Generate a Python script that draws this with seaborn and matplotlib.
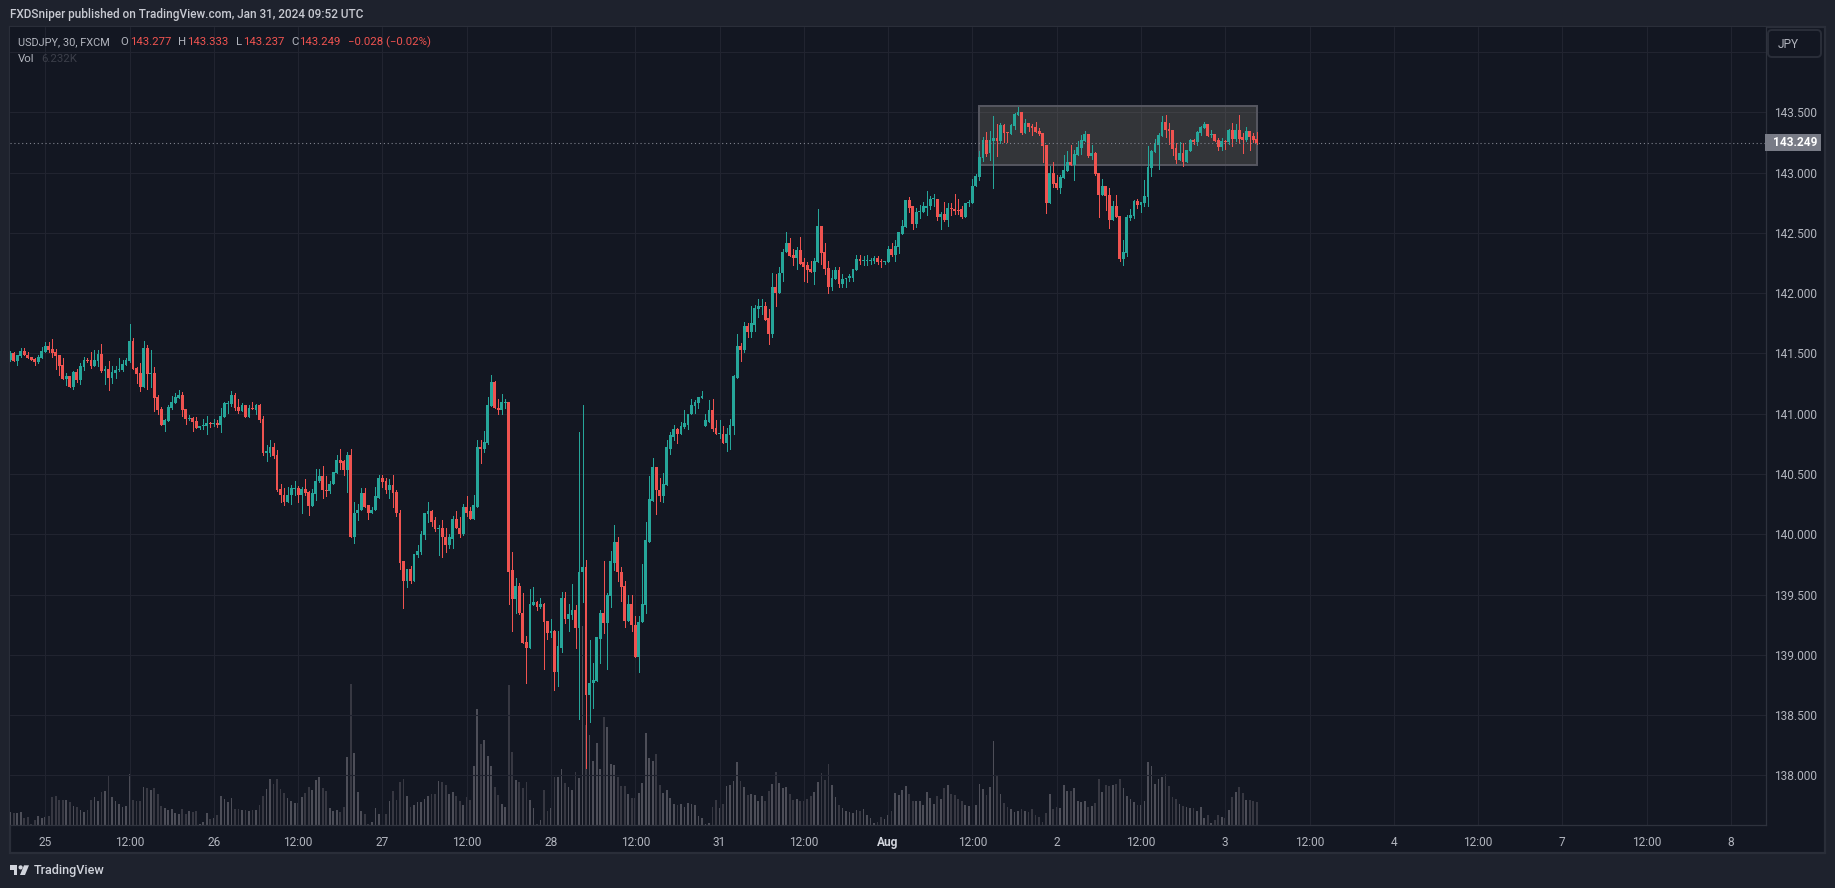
import numpy as np
import matplotlib
matplotlib.use("Agg")
import matplotlib.pyplot as plt
from matplotlib.patches import Rectangle, Polygon, Circle, FancyBboxPatch
from matplotlib.ticker import MultipleLocator
import seaborn as sns

opens = [
141.445,141.50,141.435,141.48,141.52,141.49,141.47,141.453,141.428,141.46,
141.51,141.56,141.535,141.51,141.485,141.405,141.285,141.31,141.22,141.345,
141.28,141.39,141.445,141.445,141.395,141.44,141.495,141.355,141.37,141.295,
141.335,141.36,141.36,141.405,141.435,141.60,141.38,141.335,141.22,141.545,
141.33,141.335,141.14,141.04,140.905,140.94,141.045,141.09,141.13,141.155,
141.04,140.955,140.965,140.94,140.88,140.895,140.895,140.925,140.915,140.925,
140.905,140.97,141.08,141.08,141.155,141.055,141.02,141.07,140.97,141.045,
141.03,141.07,140.955,140.675,140.675,140.725,140.655,140.375,140.33,140.27,
140.325,140.375,140.385,140.325,140.375,140.35,140.235,140.335,140.44,140.485,
140.37,140.355,140.415,140.505,140.62,140.605,140.53,140.655,139.98,140.175,
140.2,140.34,140.24,140.18,140.2,140.305,140.47,140.44,140.365,140.405,
140.35,140.18,139.775,139.61,139.71,139.615,139.825,139.85,139.99,140.165,
140.19,140.115,140.04,140.055,139.98,139.91,139.965,140.13,140.055,140.0,
140.23,140.19,140.125,140.23,140.72,140.705,140.755,141.06,141.26,141.05,
141.035,141.09,141.095,139.70,139.46,139.57,139.35,139.11,139.06,139.41,
139.435,139.395,139.42,139.28,139.18,139.195,138.86,139.06,139.475,139.30,
139.33,139.37,139.225,139.685,139.725,138.67,138.765,138.785,139.135,139.35,
139.26,139.49,139.765,139.94,139.69,139.57,139.28,139.425,139.25,138.985,
139.27,139.41,139.94,140.28,140.555,140.37,140.315,140.405,140.71,140.81,
140.87,140.835,140.89,140.91,140.995,141.06,141.085,141.13,140.895,140.935,
141.035,140.88,140.83,140.835,140.755,140.82,140.895,141.30,141.56,141.525,
141.725,141.675,141.74,141.865,141.885,141.89,141.79,141.665,142.05,142.0,
142.165,142.34,142.42,142.315,142.29,142.355,142.255,142.23,142.2,142.175,
142.255,142.56,142.34,142.205,142.05,142.12,142.19,142.08,142.115,142.125,
142.13,142.19,142.28,142.265,142.27,142.27,142.265,142.29,142.26,142.255,
142.255,142.37,142.32,142.38,142.495,142.55,142.77,142.72,142.57,142.67,
142.675,142.71,142.72,142.78,142.785,142.63,142.66,142.61,142.71,142.7,
142.69,142.695,142.635,142.745,142.745,142.885,142.965,143.12,143.27,143.16,
143.265,143.285,143.26,143.395,143.335,143.32,143.385,143.48,143.5,143.33,
143.41,143.385,143.38,143.345,143.33,143.23,142.75,143.0,142.915,142.87,
142.955,143.015,143.09,143.065,143.145,143.205,143.26,143.32,143.14,143.165,
143.0,142.815,142.89,142.815,142.605,142.72,142.64,142.285,142.33,142.625,
142.64,142.765,142.73,142.75,142.8,143.04,143.17,143.23,143.305,143.42,
143.36,143.355,143.205,143.105,143.165,143.09,143.18,143.27,143.255,143.33,
143.37,143.405,143.31,143.32,143.27,143.21,143.26,143.255,143.355,143.28,
143.355,143.295,143.27,143.345,143.305,143.277]

highs = [
141.52,141.51,141.485,141.545,141.545,141.51,141.47,141.46,141.49,141.55,
141.595,141.595,141.62,141.535,141.485,141.46,141.335,141.31,141.355,141.37,
141.42,141.47,141.46,141.51,141.53,141.53,141.58,141.40,141.435,141.395,
141.395,141.46,141.445,141.46,141.745,141.625,141.385,141.42,141.60,141.57,
141.53,141.385,141.155,141.055,140.955,141.07,141.145,141.17,141.195,141.18,
141.04,140.99,140.975,140.975,140.895,140.955,140.98,140.93,140.955,140.945,
141.045,141.095,141.105,141.19,141.17,141.12,141.085,141.07,141.07,141.095,
141.08,141.08,140.98,140.74,140.78,140.755,140.70,140.415,140.38,140.39,
140.41,140.44,140.40,140.39,140.46,140.36,140.375,140.54,140.54,140.565,
140.48,140.44,140.515,140.655,140.705,140.62,140.685,140.705,140.27,140.25,
140.38,140.38,140.24,140.225,140.39,140.49,140.49,140.47,140.455,140.49,
140.37,140.2,139.775,139.715,139.74,139.835,139.915,140.03,140.18,140.265,
140.205,140.14,140.08,140.115,140.055,140.005,140.15,140.19,140.14,140.25,
140.32,140.23,140.33,140.785,140.78,140.86,141.135,141.325,141.27,141.12,
141.16,141.12,141.10,139.855,139.64,139.60,139.51,139.16,139.55,139.56,
139.445,139.475,139.43,139.28,139.30,139.205,139.195,139.52,139.525,139.42,
139.59,139.41,140.85,141.075,139.79,139.12,138.935,139.145,139.37,139.78,
139.51,139.865,140.075,139.975,139.725,139.61,139.50,139.50,139.32,139.325,
139.75,140.10,140.48,140.63,140.555,140.47,140.505,140.785,140.845,140.91,
140.885,140.93,141.035,141.0,141.12,141.11,141.135,141.185,141.0,141.11,
141.125,140.945,140.945,140.895,140.88,140.955,141.32,141.66,141.59,141.76,
141.75,141.89,141.90,141.95,141.955,141.925,141.865,142.17,142.155,142.22,
142.365,142.505,142.455,142.365,142.38,142.47,142.29,142.255,142.265,142.29,
142.695,142.56,142.42,142.27,142.19,142.215,142.215,142.155,142.13,142.155,
142.2,142.315,142.315,142.305,142.315,142.295,142.305,142.305,142.28,142.27,
142.39,142.42,142.445,142.51,142.605,142.77,142.8,142.72,142.71,142.735,
142.76,142.85,142.81,142.82,142.785,142.675,142.76,142.75,142.75,142.82,
142.785,142.72,142.745,142.775,142.95,142.985,143.18,143.295,143.335,143.345,
143.47,143.405,143.41,143.405,143.335,143.405,143.495,143.545,143.5,143.445,
143.41,143.405,143.42,143.37,143.33,143.23,143.055,143.09,142.98,142.98,
143.145,143.18,143.23,143.19,143.26,143.31,143.345,143.32,143.23,143.17,
143.0,142.945,142.89,142.87,142.765,142.815,142.64,142.44,142.65,142.7,
142.775,142.78,142.755,142.94,143.22,143.185,143.28,143.33,143.47,143.48,
143.41,143.355,143.245,143.255,143.245,143.19,143.28,143.28,143.345,143.385,
143.42,143.405,143.355,143.32,143.285,143.285,143.27,143.36,143.41,143.405,
143.48,143.33,143.38,143.345,143.33,143.333]

lows = [
141.44,141.435,141.405,141.47,141.485,141.46,141.445,141.405,141.42,141.46,
141.51,141.51,141.47,141.37,141.32,141.285,141.235,141.22,141.205,141.26,
141.25,141.36,141.425,141.38,141.395,141.395,141.345,141.245,141.195,141.255,
141.295,141.355,141.355,141.405,141.43,141.37,141.255,141.19,141.22,141.205,
141.22,141.02,141.0,140.905,140.855,140.94,141.04,141.09,141.13,140.98,
140.915,140.945,140.855,140.88,140.87,140.87,140.83,140.89,140.895,140.89,
140.85,140.97,141.005,141.065,141.03,141.01,141.02,140.97,140.97,141.04,
140.995,140.93,140.66,140.61,140.65,140.635,140.36,140.265,140.24,140.27,
140.25,140.325,140.265,140.175,140.33,140.16,140.235,140.285,140.43,140.305,
140.315,140.34,140.415,140.505,140.545,140.495,140.35,139.98,139.925,140.115,
140.2,140.23,140.125,140.175,140.2,140.305,140.395,140.34,140.305,140.23,
140.15,139.715,139.385,139.56,139.60,139.615,139.81,139.835,139.96,140.10,
140.065,140.025,139.825,139.815,139.85,139.885,139.89,140.05,139.98,139.99,
140.155,140.125,140.125,140.23,140.595,140.68,140.745,141.06,141.045,140.995,
140.995,141.05,139.42,139.2,139.345,139.335,139.10,138.77,139.06,139.41,
139.375,139.385,138.88,139.13,139.145,138.705,138.745,139.02,139.26,139.195,
139.30,139.06,138.465,139.435,138.06,138.44,138.555,138.785,138.93,139.185,
138.885,139.40,139.70,139.61,139.45,139.23,139.28,139.20,138.985,138.855,
139.27,139.35,139.94,140.28,140.17,140.28,140.27,140.405,140.67,140.785,
140.755,140.835,140.88,140.87,140.995,141.01,141.045,141.13,140.895,140.935,
140.855,140.83,140.795,140.755,140.695,140.705,140.83,141.30,141.435,141.51,
141.635,141.64,141.69,141.80,141.825,141.78,141.575,141.64,141.89,142.0,
142.105,142.34,142.305,142.23,142.2,142.245,142.105,142.09,142.175,142.075,
142.255,142.245,142.155,142.005,142.025,142.12,142.05,142.055,142.05,142.1,
142.105,142.19,142.24,142.23,142.23,142.24,142.25,142.24,142.215,142.24,
142.255,142.305,142.265,142.33,142.495,142.55,142.67,142.535,142.545,142.625,
142.675,142.645,142.695,142.725,142.61,142.53,142.595,142.56,142.645,142.66,
142.66,142.62,142.635,142.72,142.745,142.885,142.94,143.095,143.14,143.105,
142.87,143.14,143.245,143.255,143.255,143.32,143.36,143.48,143.32,143.33,
143.345,143.31,143.335,143.31,143.09,142.665,142.75,142.88,142.865,142.83,
142.955,143.015,143.065,142.94,143.145,143.155,143.26,143.13,143.115,142.98,
142.63,142.815,142.69,142.54,142.605,142.63,142.265,142.235,142.31,142.61,
142.625,142.705,142.67,142.725,142.72,142.97,143.17,143.03,143.305,143.295,
143.235,143.145,143.08,143.105,143.055,143.09,143.18,143.24,143.23,143.31,
143.37,143.305,143.295,143.26,143.185,143.185,143.195,143.24,143.22,143.26,
143.245,143.165,143.26,143.19,143.255,143.237]

closes = [
141.50,141.435,141.485,141.52,141.485,141.46,141.445,141.428,141.47,141.52,
141.56,141.53,141.50,141.48,141.395,141.285,141.31,141.22,141.345,141.28,
141.395,141.445,141.435,141.395,141.445,141.495,141.355,141.37,141.295,141.345,
141.36,141.37,141.41,141.445,141.60,141.37,141.33,141.22,141.545,141.33,
141.34,141.13,141.03,140.905,140.945,141.055,141.095,141.135,141.155,141.03,
140.955,140.965,140.93,140.88,140.895,140.905,140.92,140.915,140.925,140.905,
140.98,141.09,141.09,141.155,141.045,141.02,141.07,140.97,141.045,141.04,
141.07,140.945,140.675,140.69,140.725,140.65,140.365,140.325,140.27,140.325,
140.38,140.385,140.325,140.375,140.34,140.235,140.34,140.44,140.485,140.365,
140.355,140.415,140.515,140.62,140.595,140.53,140.655,139.98,140.18,140.205,
140.34,140.23,140.18,140.205,140.315,140.47,140.43,140.365,140.405,140.34,
140.175,139.765,139.61,139.71,139.615,139.835,139.86,140.0,140.175,140.19,
140.105,140.04,140.055,139.975,139.91,139.975,140.13,140.05,140.0,140.23,
140.18,140.125,140.24,140.72,140.705,140.765,141.07,141.26,141.045,141.035,
141.095,141.095,139.69,139.46,139.57,139.345,139.10,139.06,139.42,139.435,
139.395,139.42,139.27,139.18,139.195,138.86,139.07,139.475,139.30,139.335,
139.37,139.225,139.69,139.725,138.67,138.77,138.795,139.145,139.35,139.26,
139.50,139.775,139.94,139.685,139.56,139.28,139.425,139.245,138.985,139.275,
139.42,139.95,140.29,140.555,140.365,140.315,140.415,140.72,140.82,140.87,
140.835,140.895,140.92,141.0,141.07,141.095,141.135,141.15,140.945,141.035,
140.87,140.83,140.835,140.755,140.83,140.905,141.31,141.56,141.525,141.725,
141.675,141.75,141.875,141.89,141.89,141.78,141.665,142.05,142.0,142.17,
142.345,142.42,142.305,142.29,142.355,142.245,142.22,142.19,142.175,142.265,
142.56,142.33,142.2,142.05,142.13,142.19,142.08,142.12,142.13,142.14,
142.2,142.28,142.265,142.27,142.275,142.275,142.29,142.255,142.255,142.27,
142.37,142.32,142.39,142.505,142.56,142.77,142.71,142.57,142.67,142.68,
142.72,142.725,142.785,142.785,142.63,142.66,142.61,142.71,142.695,142.685,
142.685,142.635,142.745,142.75,142.89,142.975,143.13,143.27,143.155,143.27,
143.285,143.26,143.395,143.33,143.33,143.395,143.485,143.5,143.33,143.41,
143.38,143.37,143.335,143.32,143.22,142.75,143.0,142.905,142.87,142.965,
143.02,143.09,143.065,143.155,143.21,143.27,143.32,143.14,143.165,142.99,
142.815,142.89,142.805,142.605,142.72,142.63,142.285,142.34,142.63,142.65,
142.765,142.73,142.755,142.805,143.045,143.18,143.235,143.31,143.42,143.355,
143.345,143.195,143.105,143.165,143.09,143.19,143.27,143.255,143.335,143.38,
143.405,143.305,143.32,143.26,143.21,143.26,143.255,143.355,143.28,143.355,
143.28,143.27,143.345,143.295,143.27,143.249]

# tick volume in thousands
volumes_first = [
3.6,3.3,3.2,3.6,2.0,2.3,0.3,1.4,2.5,2.0,
2.3,2.5,7.7,7.9,6.8,6.8,6.8,6.2,5.2,5.0,
4.1,3.6,4.1,6.8,7.7,6.6,9.0,9.3,13.5,7.7,
6.6,5.8,5.0,5.2,13.9,6.8,6.6,6.6,10.4,10.1,
9.5,10.1,8.5,5.2,4.7,4.1,4.4,3.3,3.1,4.4,
3.1,3.9,3.6,3.9,0.4,0.9,3.3,1.7,2.0,2.8,
7.9,7.1,6.3,7.4,4.4,4.4,4.1,4.1,3.9,4.1,
4.1,5.5,7.9,9.8,12.5,11.2,12.5,9.8,8.7,7.4,
6.6,6.0,6.0,7.7,8.7,10.4,9.5,12.2,13.1,10.1,
9.3,4.7,3.9,4.1,3.6,5.0,18.5,38.2,19.5,9.0,
3.9,3.1,0.3,0.9,4.7,3.1,2.5,3.1,6.6,9.3,
6.8,11.7,12.5,7.9,5.0,5.5,6.2,6.3,7.1,7.9,
8.5,8.5,12.0,11.7,10.9,8.5,9.0,7.9,6.6,5.5,
7.7,6.8,16.0,31.4,22.0,23.0,18.7,16.0,10.4,8.2,
5.8,5.0,37.9,19.8,12.2,11.7,10.1,11.7,6.8,4.7,
0.3,1.4,9.5,3.9,4.7,13.1,13.1,15.2,11.4,10.4,
9.5,14.4,12.8,53.8,27.0,24.4,17.4,22.2,15.2,29.3,
26.6,16.6,16.3,13.1,10.6,10.6,8.5,7.4,7.4,8.7]
volumes_second = [
11.3,24.8,18.1,17.3,19.2,10.8,8.6,9.5,7.3,5.7,
5.4,5.7,4.9,5.9,5.7,5.4,2.4,1.9,0.3,0.5,
4.9,6.8,4.6,5.7,10.5,10.8,11.9,17.0,11.9,10.3,
8.1,8.4,8.1,6.5,7.8,6.5,9.2,11.1,14.3,11.3,
10.0,10.3,8.4,6.8,7.0,6.5,6.5,7.0,7.8,8.9,
11.6,14.0,12.2,16.5,10.8,7.6,5.4,4.6,3.8,3.5,
3.2,4.1,3.8,4.3,2.7,1.9,0.5,0.8,2.2,1.6,
2.7,3.8,8.6,8.1,9.5,10.5,8.4,6.5,6.5,6.5,
5.4,8.9,7.3,5.7,7.8,7.0,10.0,10.8,8.4,8.1,
7.0,6.5,5.4,5.1,6.5,5.4,11.1,9.7,8.1,10.3,
22.7,13.2,8.4,5.9,4.9,4.3,3.5,3.8,4.3,3.8,
3.5,4.3,2.7,2.2,0.8,3.2,8.4,4.3,4.9,4.6,
10.8,9.2,9.2,10.0,6.5,6.2,6.5,4.9,5.1,5.9,
12.4,8.9,10.8,10.5,10.8,11.1,12.4,10.0,7.8,7.0,
6.2,5.4,5.4,6.5,17.0,15.9,11.1,12.4,13.0,13.8,
10.5,7.6,7.0,5.7,5.1,4.9,4.6,4.6,3.8,4.9,
1.9,2.7,0.5,1.4,2.7,2.2,1.9,4.1,7.6,8.9,
10.3,8.6,6.8,6.8,6.5,6.2]

time_ticks = ["25","12:00","26","12:00","27","12:00","28","12:00","31","12:00",
              "Aug","12:00","2","12:00","3","12:00","4","12:00","7","12:00","8"]
header = "FXDSniper published on TradingView.com, Jan 31, 2024 09:52 UTC"
last_price = 143.249
box_low, box_high = 143.06, 143.55
box_first_bar, box_last_bar = 266, 345

PANEL = "#131722"; CHROME = "#1e222d"; GRID = "#212430"; FRAME = "#2a2e39"
UP = "#26a69a"; DOWN = "#ef5350"; TXT = "#b2b5be"

sns.set_theme(style="dark", rc={"axes.facecolor": PANEL, "figure.facecolor": CHROME,
                                "axes.edgecolor": FRAME})
plt.rcParams["font.family"] = ["Roboto", "DejaVu Sans"]

volumes = volumes_first + volumes_second
assert len(volumes) == len(opens) == len(highs) == len(lows) == len(closes), \
    (len(volumes_first), len(volumes_second), len(opens), len(highs), len(lows), len(closes))

o, h, l, c = map(np.array, (opens, highs, lows, closes))
bars = np.arange(len(o)) - 10
rising = c >= o

W, H = 1835, 888
fig = plt.figure(figsize=(W/100, H/100), dpi=100, facecolor=CHROME)
L, R, T, B = 10, 1765.5, 27, 825.3
pos = [L/W, 1-B/H, (R-L)/W, (B-T)/H]
ax_vol = fig.add_axes(pos, zorder=1)
ax = fig.add_axes(pos, zorder=2, facecolor="none", sharex=ax_vol)

kinds = np.where(rising, "up", "down")
sns.barplot(x=bars, y=volumes, hue=kinds, hue_order=["up", "down"],
            palette={"up": "#4d4e58", "down": "#373842"}, native_scale=True, dodge=False,
            width=0.5, errorbar=None, legend=False, saturation=1, linewidth=0,
            antialiased=False, ax=ax_vol)
ax_vol.set_ylim(0, 215.5)
ax_vol.set_yticks([]); ax_vol.set_ylabel(""); ax_vol.set_xlabel("")
ax_vol.tick_params(labelbottom=False, length=0)
for s in ax_vol.spines.values():
    s.set_visible(False)

colors = np.where(rising, UP, DOWN)
ax.add_patch(Rectangle((box_first_bar, box_low), box_last_bar-box_first_bar, box_high-box_low,
                       facecolor=(180/255, 175/255, 150/255, 0.2),
                       edgecolor="#565761", linewidth=1.4, zorder=1.5))
ax.vlines(bars, l, h, colors=colors, linewidth=0.72, zorder=3, antialiased=False)
body = np.maximum(np.abs(c-o), 0.009)
ax.bar(bars, body, bottom=np.minimum(o, c), width=0.8, color=colors, linewidth=0,
       antialiased=False, zorder=3.2)
ax.axhline(last_price, color="#80838e", linewidth=0.8, linestyle=(0, (1, 2.5)), zorder=4)

ax.set_xlim(-10.05, 489.85)
ax.set_ylim(137.586, 144.208)
ax.set_xticks(np.arange(len(time_ticks))*24)
ax.set_xticklabels(time_ticks)
ax.yaxis.set_major_locator(MultipleLocator(0.5))
ax.yaxis.set_major_formatter(lambda v, _: f"{v:.3f}" if v < 143.9 else "")
ax.yaxis.tick_right()
ax.set_axisbelow(True)
ax.grid(True, color=GRID, linewidth=0.8)
ax.tick_params(axis="x", length=0, pad=8, labelsize=8.6, labelcolor=TXT)
ax.tick_params(axis="y", length=0, pad=6, labelsize=8.6, labelcolor=TXT)
for lab in ax.get_xticklabels():
    if lab.get_text() == "Aug":
        lab.set_fontweight("bold"); lab.set_color("#d1d4dc")
for name, s in ax.spines.items():
    s.set_visible(name in ("bottom", "right"))
    s.set_color("#2e323d"); s.set_linewidth(0.9)

# chrome drawn in pixel coordinates
px = fig.add_axes([0, 0, 1, 1], zorder=0, facecolor=CHROME)
px.set_xlim(0, W); px.set_ylim(H, 0); px.axis("off")
px.add_patch(Rectangle((10, 27), 1815, 825.5, facecolor=PANEL, edgecolor="#2a2e39", linewidth=1.6))
top = fig.add_axes([0, 0, 1, 1], zorder=5, facecolor="none")
top.set_xlim(0, W); top.set_ylim(H, 0); top.axis("off")

top.text(10, 14.5, header, color="#c8cad2", fontsize=8.5, fontweight="medium", va="center")
row = 42
top.text(18, row, "USDJPY, 30, FXCM", color=TXT, fontsize=7.9, va="center")
for x, lab, xv, val in [(120.5, "O", 130, "143.277"), (178, "H", 187, "143.333"),
                        (236, "L", 243, "143.237"), (291, "C", 299, "143.249")]:
    top.text(x, row, lab, color=TXT, fontsize=8.2, va="center")
    top.text(xv, row, val, color=DOWN, fontsize=8.2, va="center")
top.text(348, row, "\u22120.028 (\u22120.02%)", color=DOWN, fontsize=8.2, va="center")
top.text(18, 59, "Vol", color=TXT, fontsize=8.2, va="center")
top.text(41.5, 59, "6.232K", color="#3c3f4a", fontsize=8.2, va="center")

top.add_patch(FancyBboxPatch((1770, 32), 49, 23, boxstyle="round,pad=2,rounding_size=4",
                             facecolor=PANEL, edgecolor="#2a2e39", linewidth=1.4))
top.text(1778, 44.5, "JPY", color=TXT, fontsize=8.6, va="center")

top.add_patch(Rectangle((1765, 134), 56, 16.7, facecolor="#787b86", edgecolor="none"))
top.text(1773, 142.6, f"{last_price:.3f}", color="white", fontsize=8.6, fontweight="bold", va="center")

top.add_patch(Rectangle((10, 865.3), 7.2, 4.2, facecolor="#d1d4dc", edgecolor="none"))
top.add_patch(Rectangle((13.5, 865.3), 3.7, 9.7, facecolor="#d1d4dc", edgecolor="none"))
top.add_patch(Circle((20.6, 867.4), 2.1, facecolor="#d1d4dc", edgecolor="none"))
top.add_patch(Polygon([(24, 865.3), (29, 865.3), (25, 875), (20, 875)], facecolor="#d1d4dc", edgecolor="none"))
top.text(33.5, 870, "TradingView", color="#d1d4dc", fontsize=9.1, fontweight="medium", va="center")

fig.savefig("out.png", dpi=100, facecolor=CHROME)
